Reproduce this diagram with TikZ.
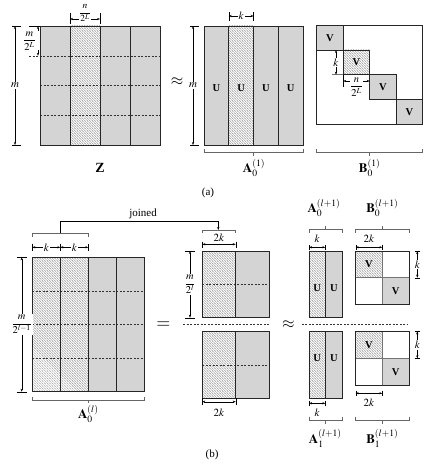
\documentclass[tikz,border=0pt]{standalone}
\usepackage{amsmath}
\usepackage{mathptmx}
\usepackage{fontspec}
\setmainfont{Liberation Serif}
\usetikzlibrary{patterns,arrows.meta}
\pgfdeclarepatternformonly{finehatch}{\pgfqpoint{-1pt}{-1pt}}{\pgfqpoint{3.5pt}{3.5pt}}{\pgfqpoint{2.5pt}{2.5pt}}{%
  \pgfsetlinewidth{0.35pt}
  \pgfpathmoveto{\pgfqpoint{0pt}{2.5pt}}
  \pgfpathlineto{\pgfqpoint{2.5pt}{0pt}}
  \pgfpathmoveto{\pgfqpoint{-0.5pt}{0.5pt}}
  \pgfpathlineto{\pgfqpoint{0.5pt}{-0.5pt}}
  \pgfpathmoveto{\pgfqpoint{2pt}{3pt}}
  \pgfpathlineto{\pgfqpoint{3pt}{2pt}}
  \pgfusepath{stroke}}
\tikzset{
  mat/.style={draw=black!85, line width=0.9pt},
  gfill/.style={fill=black!17},
  hatch/.style={pattern=finehatch, pattern color=black!35},
  dim/.style={draw, line width=0.4pt, {Stealth[length=3pt,width=2.2pt]}-{Stealth[length=3pt,width=2.2pt]}},
  sarr/.style={draw, line width=0.4pt, -{Stealth[length=3pt,width=2.2pt]}},
  tk/.style={draw, line width=0.4pt},
  brc/.style={draw=black!60, line width=0.5pt},
  dsh/.style={draw=black!80, dashed, line width=0.4pt, dash pattern=on 2pt off 1.5pt},
  lbl/.style={font=\fontsize{11}{12}\selectfont, inner sep=1pt},
  fr/.style={font=\fontsize{10.5}{11}\selectfont, inner sep=1pt},
  wl/.style={lbl, fill=white},
  big/.style={font=\fontsize{13}{14}\selectfont, inner sep=1pt},
  bl/.style={font=\fontsize{10.5}{11}\selectfont\bfseries, inner sep=0pt},
}
\begin{document}
\begin{tikzpicture}[x=1pt,y=-1pt]
\useasboundingbox (0,0) rectangle (425,476);

%% ---------------- (a) Z ----------------
\fill[gfill] (40,26) rectangle (70,145);
\fill[gfill] (100,26) rectangle (160,145);
\fill[hatch] (70,26) rectangle (100,145);
\draw[dsh] (29,55.75) -- (160,55.75);
\draw[dsh] (40,85.5) -- (160,85.5);
\draw[dsh] (40,115.25) -- (160,115.25);
\draw[mat] (40,26) rectangle (160,145);
\foreach \x in {70,100,130} \draw[mat] (\x,26) -- (\x,145);
% m dimension
\draw[tk] (12,26) -- (21,26);
\draw[tk] (12,145) -- (21,145);
\draw[dim] (15,26) -- node[wl] (zm) {$m$} (15,145);
% m/2^L
\draw[tk] (29,26) -- (40,26);
\node[fr] (zfr) at (29.5,41) {$\dfrac{m}{2^L}$};
\draw[sarr] (38,31) -- (38,26);
\draw[sarr] (38,50) -- (38,55.75);
% n/2^L
\node[font=\fontsize{9.5}{10}\selectfont, inner sep=0pt, anchor=north] (zn) at (85,4.5) {$\dfrac{n}{2^L}$};
\draw[tk] (70,13) -- (70,24);
\draw[tk] (100,13) -- (100,24);
\draw[sarr] (79,19) -- (70,19);
\draw[sarr] (91,19) -- (100,19);
\node[font=\fontsize{14}{15}\selectfont\bfseries] (Z) at (100,168) {Z};
\node[font=\fontsize{16}{16}\selectfont] (ap1) at (177,82) {$\approx$};

%% ---------------- (a) A ----------------
\fill[gfill] (204,26) rectangle (228.75,145);
\fill[gfill] (253.5,26) rectangle (303,145);
\fill[hatch] (228.75,26) rectangle (253.5,145);
\draw[mat] (204,26) rectangle (303,145);
\foreach \x in {228.75,253.5,278.25} \draw[mat] (\x,26) -- (\x,145);
\foreach \x/\n in {216.4/u1,241.1/u2,265.9/u3,290.6/u4} \node[bl] (\n) at (\x,88) {U};
\draw[tk] (190,26) -- (199,26);
\draw[tk] (190,145) -- (199,145);
\draw[dim] (193,26) -- node[wl] (am) {$m$} (193,145);
\draw[tk] (228.75,12) -- (228.75,21);
\draw[tk] (253.5,12) -- (253.5,21);
\draw[dim] (228.75,16) -- node[wl] (ak) {$k$} (253.5,16);
\draw[brc] (204,149) -- (204,152.7) -- (303,152.7) -- (303,149);
\draw[brc] (253.5,152.7) -- (253.5,156);
\node[big] (A01) at (254,168) {$\mathbf{A}_0^{(1)}$};

%% ---------------- (a) B ----------------
\draw[mat] (316.7,25.3) rectangle (422.7,124.1);
\fill[gfill] (316.7,25.3) rectangle (343.2,50);
\fill[hatch] (343.2,50) rectangle (369.7,74.7);
\fill[gfill] (369.7,74.7) rectangle (396.2,99.4);
\fill[gfill] (396.2,99.4) rectangle (422.7,124.1);
\draw[mat] (316.7,25.3) rectangle (343.2,50);
\draw[mat] (343.2,50) rectangle (369.7,74.7);
\draw[mat] (369.7,74.7) rectangle (396.2,99.4);
\draw[mat] (396.2,99.4) rectangle (422.7,124.1);
\draw[mat] (316.7,25.3) rectangle (422.7,124.1);
\node[bl] (v1) at (330,38) {V};
\node[bl] (v2) at (356.5,62.4) {V};
\node[bl] (v3) at (383,87) {V};
\node[bl] (v4) at (409.5,111.8) {V};
\draw[line width=1.2pt, black!55] (331.5,74.7) -- (343.2,74.7);
\draw[dim] (336,50) -- node[wl] (bk) {$k$} (336,74.7);
\draw[tk] (343.2,75) -- (343.2,87);
\node[fr] (bn) at (356.5,87) {$\dfrac{n}{2^L}$};
\draw[sarr] (350,81) -- (343.2,81);
\draw[sarr] (363,81) -- (369.7,81);
\draw[brc] (316.7,149) -- (316.7,152.7) -- (422.7,152.7) -- (422.7,149);
\draw[brc] (369.7,152.7) -- (369.7,156);
\node[big] (B01) at (369.7,168) {$\mathbf{B}_0^{(1)}$};
\node[lbl] (capa) at (208,193) {(a)};

%% ---------------- (b) joined ----------------
\node[lbl] (joined) at (143,214) {joined};
\draw[tk] (60,233.3) -- (60,221) -- (218.3,221);
\draw[sarr] (218.3,221) -- (218.3,230);
\draw[brc] (32.3,236.7) -- (32.3,233.3) -- (88.3,233.3) -- (88.3,236.7);
\foreach \x in {32.3,60.3,88.3} \draw[tk] (\x,243.5) -- (\x,251);
\draw[dim] (32.3,247.3) -- node[wl] (lk1) {$k$} (60.3,247.3);
\draw[dim] (60.3,247.3) -- node[wl] (lk2) {$k$} (88.3,247.3);

%% left matrix
\fill[hatch] (32.3,257.3) rectangle (88.3,391.7);
\fill[gfill] (88.3,257.3) rectangle (144.1,391.7);
\foreach \y in {290.9,324.5,358.1} \draw[dsh] (32.3,\y) -- (144.1,\y);
\draw[mat] (32.3,257.3) rectangle (144.1,391.7);
\foreach \x in {60.3,88.3,116.2} \draw[mat] (\x,257.3) -- (\x,391.7);
\draw[tk] (16.5,257.3) -- (27,257.3);
\draw[tk] (16.5,391.7) -- (27,391.7);
\draw[dim] (21.7,257.3) -- node[fr, fill=white] (lm) {$\dfrac{m}{2^{l-1}}$} (21.7,391.7);
\draw[brc] (32.3,396.7) -- (32.3,400) -- (144.1,400) -- (144.1,396.7);
\draw[brc] (88.3,400) -- (88.3,403.3);
\node[big] (A0l) at (88.3,414) {$\mathbf{A}_0^{(l)}$};
\node[font=\fontsize{18}{18}\selectfont] (eq) at (163.3,325) {$=$};

%% middle matrices
\fill[hatch] (202.3,251) rectangle (235.7,317.7);
\fill[gfill] (235.7,251) rectangle (269,317.7);
\draw[dsh] (202.3,284.3) -- (269,284.3);
\draw[mat] (202.3,251) rectangle (269,317.7);
\draw[mat] (235.7,251) -- (235.7,317.7);
\fill[hatch] (202.3,331.3) rectangle (235.7,398.3);
\fill[gfill] (235.7,331.3) rectangle (269,398.3);
\draw[dsh] (202.3,364.8) -- (269,364.8);
\draw[mat] (202.3,331.3) rectangle (269,398.3);
\draw[mat] (235.7,331.3) -- (235.7,398.3);
\draw[dsh] (183,324.3) -- (269,324.3);
\draw[dsh] (301.7,324.3) -- (408.3,324.3);
\node[font=\fontsize{16}{16}\selectfont] (ap2) at (288.3,325) {$\approx$};
\draw[brc] (202.3,233.3) -- (202.3,230) -- (235.7,230) -- (235.7,233.3);
\draw[tk] (202.3,241.5) -- (202.3,247.5);
\draw[tk] (235.7,241.5) -- (235.7,247.5);
\draw[dim] (202.3,244.3) -- (235.7,244.3);
\node[lbl] (m2k1) at (219,238) {$2k$};
\draw[tk] (185,251) -- (195,251);
\draw[tk] (185,317.7) -- (195,317.7);
\draw[dim] (190,251) -- node[fr, fill=white] (mm) {$\dfrac{m}{2^{l}}$} (190,317.7);
\draw[tk] (202.3,398.3) -- (202.3,405);
\draw[tk] (235.7,398.3) -- (235.7,405);
\draw[dim] (202.3,401.7) -- (235.7,401.7);
\node[lbl] (m2k2) at (219,413) {$2k$};

%% A^(l+1)
\fill[hatch] (309,251) rectangle (325.3,317.7);
\fill[gfill] (325.3,251) rectangle (342.3,317.7);
\draw[mat] (309,251) rectangle (342.3,317.7);
\draw[mat] (325.3,251) -- (325.3,317.7);
\node[bl] (au1) at (317.2,288) {U};
\node[bl] (au2) at (333.8,288) {U};
\fill[hatch] (309,331.3) rectangle (325.3,398.3);
\fill[gfill] (325.3,331.3) rectangle (342.3,398.3);
\draw[mat] (309,331.3) rectangle (342.3,398.3);
\draw[mat] (325.3,331.3) -- (325.3,398.3);
\node[bl] (au3) at (317.2,358) {U};
\node[bl] (au4) at (333.8,358) {U};
\draw[tk] (309,244.5) -- (309,250);
\draw[tk] (325.3,244.5) -- (325.3,250);
\draw[dim] (309,247.3) -- (325.3,247.3);
\node[lbl] (ak1) at (317.2,239) {$k$};
\draw[brc] (309,232.7) -- (309,229.3) -- (342.3,229.3) -- (342.3,232.7);
\draw[brc] (325.3,229.3) -- (325.3,225.5);
\node[big] (A0l1) at (324,208) {$\mathbf{A}_0^{(l+1)}$};
\draw[tk] (309,400.5) -- (309,406);
\draw[tk] (325.3,400.5) -- (325.3,406);
\draw[dim] (309,403.3) -- (325.3,403.3);
\node[lbl] (ak2) at (317.2,412.5) {$k$};
\draw[brc] (309,416.7) -- (309,420) -- (342.3,420) -- (342.3,416.7);
\draw[brc] (325.3,420) -- (325.3,423.5);
\node[big] (A1l1) at (325.3,438) {$\mathbf{A}_1^{(l+1)}$};

%% B^(l+1)
\fill[hatch] (355.7,251) rectangle (382.3,277.7);
\fill[gfill] (382.3,277.7) rectangle (409,304.3);
\draw[black!55, line width=0.9pt] (382.3,251) -- (382.3,304.3) (355.7,277.7) -- (409,277.7);
\draw[mat] (355.7,251) rectangle (409,304.3);
\node[bl] (bv1) at (369,264.3) {V};
\node[bl] (bv2) at (395.7,291) {V};
\draw[tk] (414.5,251) -- (420,251);
\draw[tk] (414.5,277.7) -- (420,277.7);
\draw[dim] (417.3,251) -- node[wl] (bk1) {$k$} (417.3,277.7);
\draw[tk] (355.7,244.5) -- (355.7,250);
\draw[tk] (382.3,244.5) -- (382.3,250);
\draw[dim] (355.7,247.3) -- (382.3,247.3);
\node[lbl] (b2k1) at (369,239) {$2k$};
\draw[brc] (355.7,232.7) -- (355.7,229.3) -- (409,229.3) -- (409,232.7);
\draw[brc] (382.3,229.3) -- (382.3,225.5);
\node[big] (B0l1) at (382.3,208) {$\mathbf{B}_0^{(l+1)}$};

\fill[hatch] (355.7,331.3) rectangle (382.3,358.3);
\fill[gfill] (382.3,358.3) rectangle (409,385);
\draw[black!55, line width=0.9pt] (382.3,331.3) -- (382.3,385) (355.7,358.3) -- (409,358.3);
\draw[mat] (355.7,331.3) rectangle (409,385);
\node[bl] (bv3) at (369,344.8) {V};
\node[bl] (bv4) at (395.7,371.7) {V};
\draw[tk] (414.5,331.3) -- (420,331.3);
\draw[tk] (414.5,358.3) -- (420,358.3);
\draw[dim] (417.3,331.3) -- node[wl] (bk2) {$k$} (417.3,358.3);
\draw[tk] (355.7,390.5) -- (355.7,396);
\draw[tk] (382.3,390.5) -- (382.3,396);
\draw[dim] (355.7,393.3) -- (382.3,393.3);
\node[lbl] (b2k2) at (369,402.5) {$2k$};
\draw[brc] (355.7,416.7) -- (355.7,420) -- (409,420) -- (409,416.7);
\draw[brc] (382.3,420) -- (382.3,423.5);
\node[big] (B1l1) at (382.3,438) {$\mathbf{B}_1^{(l+1)}$};
\node[lbl] (capb) at (212,455) {(b)};
\end{tikzpicture}
\end{document}
